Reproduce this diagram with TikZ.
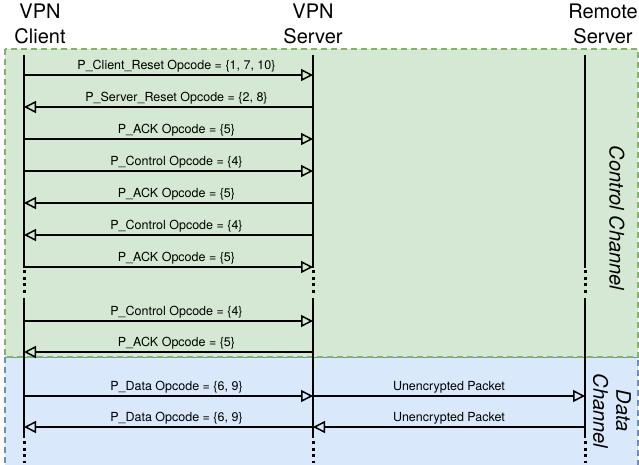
\documentclass[tikz,border=0pt]{standalone}
\usepackage{fontspec}
\setmainfont{TeX Gyre Heros}
\usepackage{tikz}
\usetikzlibrary{positioning, arrows.meta}
\definecolor{ctrlgreen}{HTML}{D5E8D4}
\definecolor{ctrlborder}{HTML}{82B366}
\definecolor{datablue}{HTML}{DAE8FC}
\definecolor{databorder}{HTML}{6C8EBF}

\tikzset{
    head/.style={align=center, inner sep=0pt, font=\fontsize{20}{25}\selectfont},
    life/.style={line width=2.2pt},
    lifedots/.style={line width=3pt, dash pattern=on 3pt off 3.5pt},
    msg/.style={line width=1.5pt, -{Triangle[open, length=12pt, width=12pt]}},
    lbl/.style={above=2.5pt, inner sep=0pt, font=\fontsize{12.5}{14}\selectfont},
    vpnlbl/.style={lbl, xshift=8pt},
    chan/.style={rotate=-90, align=center, inner sep=0pt, font=\fontsize{20}{23}\selectfont\itshape},
    chanbox/.style={line width=1.2pt, dash pattern=on 6pt off 4pt},
}

\begin{document}
\begin{tikzpicture}[x=1pt, y=-1pt]

\clip (0,0) rectangle (639,465);

    % channels
\draw[chanbox, databorder, fill=datablue] (5,357) rectangle (638,480);
\draw[chanbox, ctrlborder, fill=ctrlgreen] (5,49) rectangle (638,357);

\node[chan] (ctrlchannel) at (617,218) {Control Channel};
\node[chan] (datachannel) at (612,411) {Data\\Channel};

\node[head] (client) at (40,24) {VPN\\Client};
\node[head] (server) at (313,24) {VPN\\Server};
\node[head] (remote) at (603,24) {Remote\\Server};

    % lifelines
\foreach \x in {24, 313, 585} {
    \draw[life] (\x,55) -- (\x,268);
    \draw[lifedots] (\x,270) -- (\x,295);
    \draw[life] (\x,298) -- (\x,438);
    \draw[lifedots] (\x,441) -- (\x,463);
}

\foreach \i/\y in {1/75, 2/107, 3/139, 4/171, 5/203, 6/235, 7/267, 8/321, 9/352, 10/396, 11/427} {
    \coordinate (c\i) at (24,\y);
    \coordinate (s\i) at (313,\y);
    \coordinate (r\i) at (585,\y);
}

    % -------

\draw[msg] (c1) -- node[vpnlbl] {P\_Client\_Reset Opcode = \{1, 7, 10\}} (s1);
\draw[msg] (s2) -- node[vpnlbl] {P\_Server\_Reset Opcode = \{2, 8\}} (c2);
\draw[msg] (c3) -- node[vpnlbl] {P\_ACK Opcode = \{5\}} (s3);
\draw[msg] (c4) -- node[vpnlbl] {P\_Control Opcode = \{4\}} (s4);
\draw[msg] (s5) -- node[vpnlbl] {P\_ACK Opcode = \{5\}} (c5);
\draw[msg] (s6) -- node[vpnlbl] {P\_Control Opcode = \{4\}} (c6);
\draw[msg] (c7) -- node[vpnlbl] {P\_ACK Opcode = \{5\}} (s7);

\draw[msg] (c8) -- node[vpnlbl] {P\_Control Opcode = \{4\}} (s8);
\draw[msg] (s9) -- node[vpnlbl] {P\_ACK Opcode = \{5\}} (c9);

\draw[msg] (c10) -- node[vpnlbl] {P\_Data Opcode = \{6, 9\}} (s10);
\draw[msg] (s10) -- node[lbl] {Unencrypted Packet} (r10);
\draw[msg] (r11) -- node[lbl] {Unencrypted Packet} (s11);
\draw[msg] (s11) -- node[vpnlbl] {P\_Data Opcode = \{6, 9\}} (c11);

\end{tikzpicture}
\end{document}
